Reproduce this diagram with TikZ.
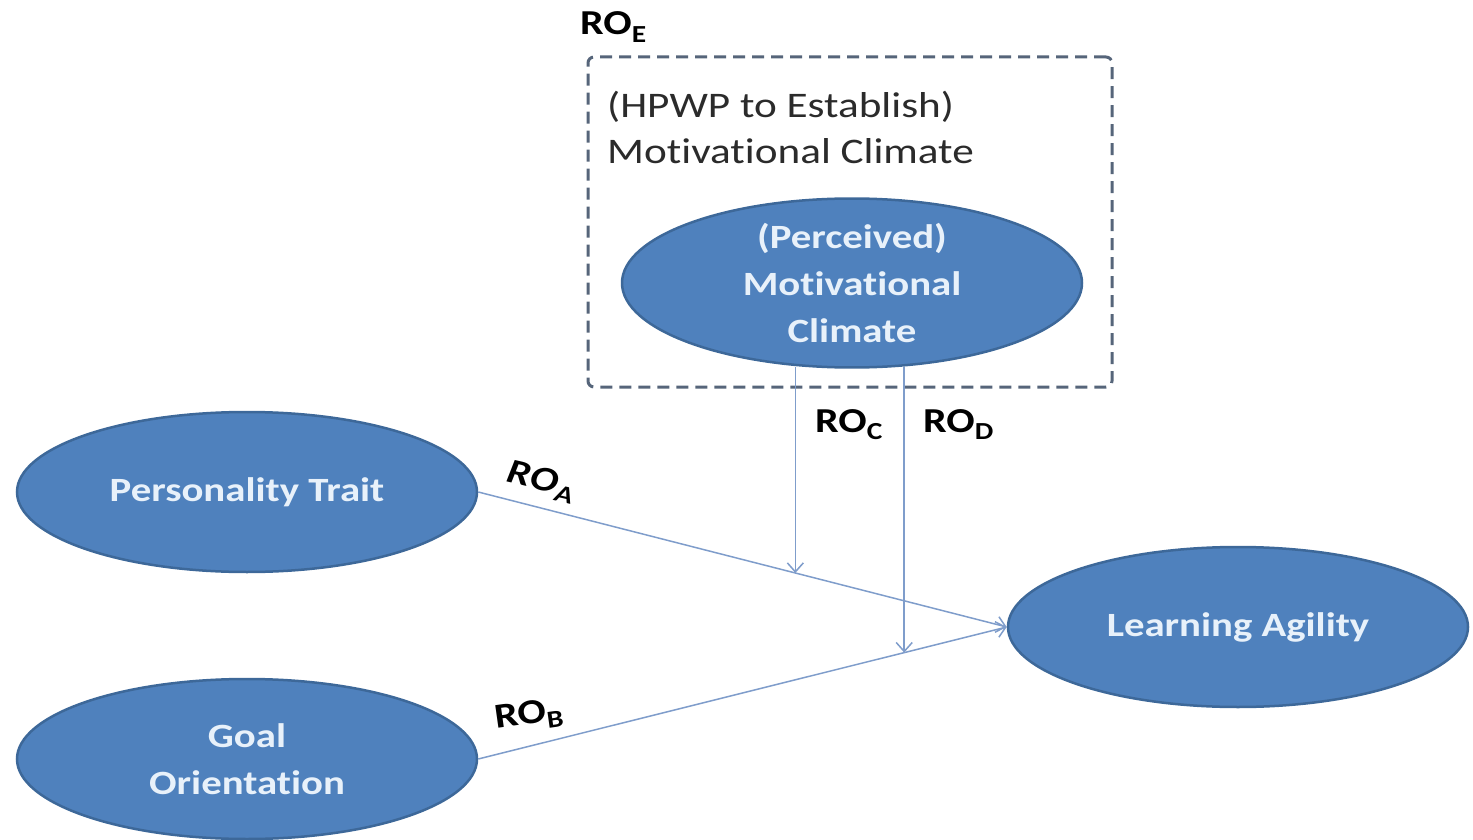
\documentclass[tikz,border=0pt]{standalone}
\usepackage{fontspec}
\usepackage{graphicx}
\setmainfont{Carlito}[Ligatures=NoCommon]
\usetikzlibrary{shapes.geometric,arrows.meta,calc}
\definecolor{ellfill}{HTML}{4F81BD}
\definecolor{elldraw}{HTML}{3D6899}
\definecolor{elltext}{HTML}{E8F1FA}
\definecolor{connclr}{HTML}{7F9DCB}
\definecolor{boxline}{HTML}{56657A}
\definecolor{boxtext}{HTML}{2B2B2B}
\newcommand\sx[1]{\scalebox{1.2}[1]{#1}}
\begin{document}
\begin{tikzpicture}[x=1pt,y=-1pt,
  ell/.style={ellipse, fill=ellfill, draw=elldraw, line width=2.5pt,
    minimum width=460pt, minimum height=160pt, inner sep=0pt,
    text=elltext, align=center, font=\fontsize{34}{47}\selectfont\bfseries},
  connarrow/.style={draw=connclr, line width=1.5pt,
    -{Straight Barb[length=9pt,width=16pt,line width=1.5pt]}},
  rolab/.style={font=\fontsize{35}{38}\selectfont\bfseries, text=black, inner sep=0pt},
  framebox/.style={draw=boxline, line width=3pt, dash pattern=on 12pt off 7pt,
    rounded corners=6pt, minimum width=524pt, minimum height=330pt, inner sep=0pt}]
\useasboundingbox (0,0) rectangle (1473,840);

% dashed frame
\node[framebox] (box) at (850,222) {};
\node[anchor=base west, inner sep=0pt, align=left, text=boxtext,
  font=\fontsize{36}{46}\selectfont] (boxtxt) at (607,164)
  {\sx{(HPWP to Establish)}\\\sx{Motivational Climate}};
\node[rolab, anchor=base west] (roe) at (580,35) {\sx{RO\textsubscript{E}}};

% ellipses
\node[ell, minimum height=158pt] (mc) at (852,283) {\sx{(Perceived)}\\\sx{Motivational}\\\sx{Climate}};
\node[ell] (pt) at (247,492) {\sx{Personality Trait}};
\node[ell] (go) at (247,759) {\sx{Goal}\\\sx{Orientation}};
\node[ell] (la) at (1238,627) {\sx{Learning Agility}};

% connectors
\draw[connarrow] (pt.east) -- (la.west);
\draw[connarrow] (go.east) -- (la.west);
\coordinate (ca) at ($(pt.east)!0.6!(la.west)$);
\coordinate (cb) at ($(go.east)!0.806!(la.west)$);
\draw[connarrow] ($(mc.south -| ca)+(0,-2)$) -- (ca);
\draw[connarrow] ($(mc.south -| cb)+(0,-2)$) -- (cb);

% labels
\node[rolab, anchor=base west] (roc) at (815,432) {\sx{RO\textsubscript{C}}};
\node[rolab, anchor=base west] (rod) at (923,432) {\sx{RO\textsubscript{D}}};
\node[rolab, rotate=-13, font=\fontsize{35}{38}\selectfont\bfseries\itshape] (roa) at (541,482) {\sx{RO\textsubscript{A}}};
\node[rolab, rotate=8] (rob) at (529,716) {\sx{RO\textsubscript{B}}};
\end{tikzpicture}
\end{document}
